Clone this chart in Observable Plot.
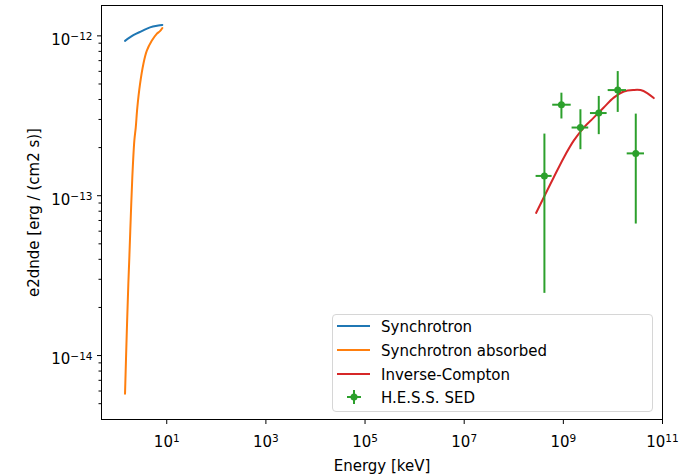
<!DOCTYPE html>
<html>
<head>
<meta charset="utf-8">
<script src="https://cdn.jsdelivr.net/npm/d3@7"></script>
<script src="https://cdn.jsdelivr.net/npm/@observablehq/plot@0.6"></script>
<style>
  html, body { margin: 0; padding: 0; background: #fff; }
  #wrap { position: relative; width: 689px; height: 476px; font-family: "DejaVu Sans", sans-serif; }
  #legend { position: absolute; left: 332px; top: 314px; width: 321px; height: 98px;
    border: 1px solid #d6d6d6; border-radius: 4px; background: rgba(255,255,255,0.85); box-sizing: border-box; }
  .row { position: absolute; left: 0; height: 24px; width: 100%; }
  .row svg { position: absolute; left: 3px; top: 0; }
  .row span { position: absolute; left: 48px; top: 3px; font-size: 15px; line-height: 18px; color: #000; }
</style>
</head>
<body>
<div id="wrap"></div>
<script>
// ---- data ----
const syncE = [1.44, 2.12, 3.13, 4.60, 6.76, 8.15];
const syncF = [9.31e-13, 1.01e-12, 1.07e-12, 1.13e-12, 1.16e-12, 1.17e-12];

const absE = [1.44, 1.56, 1.68, 1.76, 1.88, 2.02, 2.22, 2.37, 2.55, 2.89, 3.37, 3.95, 4.98, 6.28, 7.32, 8.15];
const absF = [5.77e-15, 1.37e-14, 2.81e-14, 4.11e-14, 7.31e-14, 1.30e-13, 2.21e-13, 2.67e-13, 3.56e-13, 4.99e-13, 6.65e-13, 8.05e-13, 9.31e-13, 1.03e-12, 1.07e-12, 1.12e-12];

const icE = [2.82e8, 4.02e8, 6.38e8, 1.02e9, 1.62e9, 2.58e9, 4.10e9, 6.53e9, 1.04e10, 1.66e10, 2.64e10, 3.60e10, 4.91e10, 6.67e10];
const icF = [7.80e-14, 9.75e-14, 1.30e-13, 1.73e-13, 2.21e-13, 2.67e-13, 3.08e-13, 3.56e-13, 4.11e-13, 4.49e-13, 4.59e-13, 4.58e-13, 4.39e-13, 4.08e-13];

const hessE   = [4.15e8, 9.14e8, 2.21e9, 5.18e9, 1.25e10, 2.89e10];
const hessElo = [2.82e8, 6.10e8, 1.50e9, 3.52e9, 8.02e9, 1.94e10];
const hessEhi = [5.93e8, 1.44e9, 3.25e9, 7.64e9, 1.88e10, 4.34e10];
const hessF   = [1.33e-13, 3.71e-13, 2.67e-13, 3.29e-13, 4.58e-13, 1.84e-13];
const hessFlo = [2.45e-14, 3.02e-13, 1.94e-13, 2.41e-13, 3.32e-13, 6.65e-14];
const hessFhi = [2.43e-13, 4.38e-13, 3.45e-13, 4.18e-13, 5.98e-13, 3.24e-13];

const xTicks = [1e1, 1e3, 1e5, 1e7, 1e9, 1e11];
const yTicks = [1e-14, 1e-13, 1e-12];
const yMinorTicks = [5e-15, 6e-15, 7e-15, 8e-15, 9e-15,
  2e-14, 3e-14, 4e-14, 5e-14, 6e-14, 7e-14, 8e-14, 9e-14,
  2e-13, 3e-13, 4e-13, 5e-13, 6e-13, 7e-13, 8e-13, 9e-13];

const seriesNames = ["Synchrotron", "Synchrotron absorbed", "Inverse-Compton", "H.E.S.S. SED"];
const colors = ["#1f77b4", "#ff7f0e", "#d62728", "#2ca02c"];

// ---- build tables ----
const sync = syncE.map((e, i) => ({e, f: syncF[i]}));
const absd = absE.map((e, i) => ({e, f: absF[i]}));
const ic = icE.map((e, i) => ({e, f: icF[i]}));
const hess = hessE.map((e, i) => ({e, elo: hessElo[i], ehi: hessEhi[i], f: hessF[i], flo: hessFlo[i], fhi: hessFhi[i]}));

const expFmt = d => "10^" + Math.round(Math.log10(d));

const plot = Plot.plot({
  width: 689, height: 476,
  marginLeft: 101, marginRight: 27, marginTop: 5, marginBottom: 57,
  style: {fontFamily: "DejaVu Sans, sans-serif", fontSize: "15px", color: "#000", background: "#fff"},
  x: {type: "log", domain: [Math.pow(10, -0.316), Math.pow(10, 11.0)]},
  y: {type: "log", domain: [Math.pow(10, -14.40), Math.pow(10, -11.81)]},
  marks: [
    Plot.line(sync, {x: "e", y: "f", stroke: colors[0], strokeWidth: 2, curve: "catmull-rom"}),
    Plot.line(absd, {x: "e", y: "f", stroke: colors[1], strokeWidth: 2, curve: "catmull-rom"}),
    Plot.line(ic, {x: "e", y: "f", stroke: colors[2], strokeWidth: 2, curve: "catmull-rom"}),
    Plot.ruleX(hess, {x: "e", y1: "flo", y2: "fhi", stroke: colors[3], strokeWidth: 2}),
    Plot.ruleY(hess, {y: "f", x1: "elo", x2: "ehi", stroke: colors[3], strokeWidth: 2}),
    Plot.dot(hess, {x: "e", y: "f", r: 3.5, fill: colors[3]}),
    Plot.frame({stroke: "#000", strokeWidth: 1}),
    Plot.axisX({ticks: xTicks, tickFormat: expFmt, tickSize: 5, tickPadding: 12,
      label: "Energy [keV]", labelAnchor: "center", labelArrow: "none", labelOffset: 51}),
    Plot.axisY({ticks: yTicks, tickFormat: expFmt, tickSize: 4, tickPadding: 5,
      label: "e2dnde [erg / (cm2 s)]", labelAnchor: "center", labelArrow: "none", labelOffset: 73}),
    Plot.axisY({ticks: yMinorTicks, tickFormat: () => "", tickSize: 2.5, label: null})
  ]
});

// mathtext-like superscripts on the tick labels
d3.select(plot).selectAll("text").each(function() {
  const t = this.textContent;
  const m = /^10\^(-?\d+)$/.exec(t);
  if (!m) return;
  const g = this.closest("g[aria-label]");
  const isY = g && /y-axis/.test(g.getAttribute("aria-label"));
  const sel = d3.select(this);
  sel.text(null);
  const base = sel.append("tspan").text("10");
  if (isY) base.attr("dy", "0.27em");
  sel.append("tspan").attr("dy", "-0.45em").attr("font-size", "0.7em").text(m[1].replace("-", "\u2212"));
});

const wrap = document.getElementById("wrap");
wrap.appendChild(plot);

// legend
const legend = document.createElement("div");
legend.id = "legend";
const rowTops = [0, 24, 48, 71];
seriesNames.forEach((name, i) => {
  const row = document.createElement("div");
  row.className = "row";
  row.style.top = rowTops[i] + "px";
  let sw;
  if (i < 3) {
    sw = `<svg width="40" height="24"><line x1="1" x2="34" y1="11" y2="11" stroke="${colors[i]}" stroke-width="2"/></svg>`;
  } else {
    sw = `<svg width="40" height="24"><line x1="11" x2="25" y1="11" y2="11" stroke="${colors[i]}" stroke-width="2"/><line x1="18" x2="18" y1="4" y2="18" stroke="${colors[i]}" stroke-width="2"/><circle cx="18" cy="11" r="3.5" fill="${colors[i]}"/></svg>`;
  }
  row.innerHTML = sw + `<span>${name}</span>`;
  legend.appendChild(row);
});
wrap.appendChild(legend);
</script>
</body>
</html>
